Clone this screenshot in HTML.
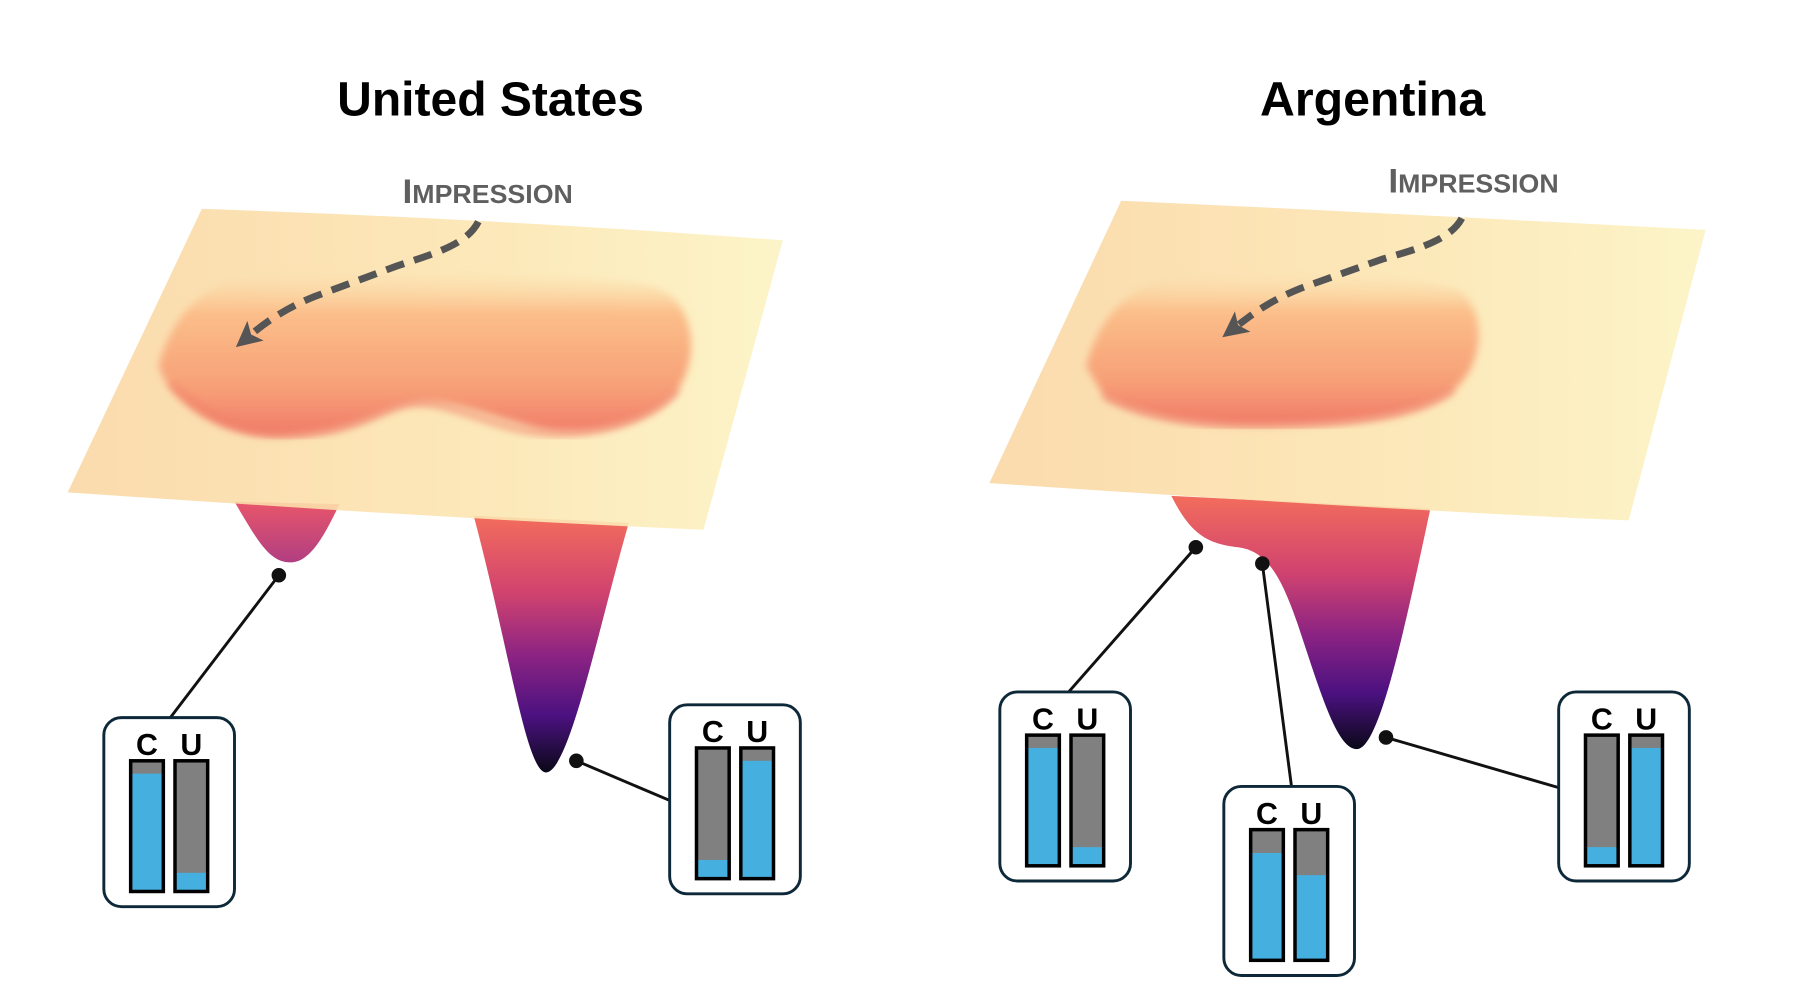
<!DOCTYPE html>
<html><head><meta charset="utf-8"><style>
html,body{margin:0;padding:0;background:#fff;width:1806px;height:1000px;overflow:hidden}
svg{display:block}
text{font-family:"Liberation Sans",Arial,sans-serif}
</style></head><body>
<svg width="1806" height="1000" viewBox="0 0 1548 857" preserveAspectRatio="none" xmlns="http://www.w3.org/2000/svg">
<defs>
<linearGradient id="plane" x1="0" y1="0" x2="1" y2="0">
<stop offset="0" stop-color="#fad7a4"/><stop offset="0.6" stop-color="#fce6b2"/><stop offset="1" stop-color="#fcf3c2"/></linearGradient>
<linearGradient id="dep" x1="0" y1="0" x2="0" y2="1">
<stop offset="0" stop-color="#fcd6a0" stop-opacity="0"/><stop offset="0.25" stop-color="#fbbe8a"/><stop offset="0.7" stop-color="#f7a077"/><stop offset="1" stop-color="#f07a68"/></linearGradient>
<linearGradient id="w1" x1="0" y1="0" x2="0" y2="1">
<stop offset="0" stop-color="#e8566a"/><stop offset="1" stop-color="#b13e82"/></linearGradient>
<linearGradient id="w2" x1="0" y1="0" x2="0" y2="1">
<stop offset="0" stop-color="#f36d5c"/><stop offset="0.3" stop-color="#d1436f"/><stop offset="0.55" stop-color="#8a2383"/><stop offset="0.78" stop-color="#4b1180"/><stop offset="1" stop-color="#0a0818"/></linearGradient>
<filter id="bl" x="-10%" y="-10%" width="120%" height="120%"><feGaussianBlur stdDeviation="3.5"/></filter>
<marker id="ah" markerWidth="22" markerHeight="22" refX="4" refY="11" orient="auto" markerUnits="userSpaceOnUse">
<path d="M0,0 L22,11 L0,22 L5,11 z" fill="#555"/></marker>
</defs>

<text x="289" y="99" font-size="41" font-weight="bold" textLength="263" lengthAdjust="spacingAndGlyphs">United States</text>
<text x="1080" y="99" font-size="41" font-weight="bold" textLength="193" lengthAdjust="spacingAndGlyphs">Argentina</text>
<text x="345" y="174" fill="#5f5f5f" font-weight="bold" textLength="146" lengthAdjust="spacingAndGlyphs"><tspan font-size="29">I</tspan><tspan font-size="22">MPRESSION</tspan></text>
<text x="1190" y="165" fill="#5f5f5f" font-weight="bold" textLength="146" lengthAdjust="spacingAndGlyphs"><tspan font-size="29">I</tspan><tspan font-size="22">MPRESSION</tspan></text>

<g transform="translate(-4,-6)">
<path d="M205,436 C225,470 235,488 253,488 C270,488 282,465 295,438 Z" fill="url(#w1)"/>
<path d="M410,448 C440,560 455,668 472,668 C492,668 518,540 543,454 Z" fill="url(#w2)"/>
<path d="M177,185 C330,190 520,200 675,212 L607,460 C420,452 240,440 62,428 Z" fill="url(#plane)" opacity="0.9"/>
<path d="M140,320 C150,280 175,250 215,245 C300,235 480,238 560,250 C600,260 605,310 585,340 C560,372 500,382 460,372 C420,362 385,345 355,352 C330,356 310,378 240,380 C190,380 150,350 140,320 Z" fill="url(#dep)" filter="url(#bl)"/>
<path d="M150,335 C190,372 230,380 260,378 C310,376 330,356 355,352 C385,348 420,370 460,376 C510,382 560,368 585,340" fill="none" stroke="#f0806a" stroke-width="5" opacity="0.7" filter="url(#bl)"/>
</g>

<g transform="translate(-14,-6)">
<path d="M1018,431 C1035,465 1050,472 1075,475 C1100,478 1112,500 1126,540 C1146,600 1160,648 1177,648 C1195,648 1215,560 1240,442 Z" fill="url(#w2)"/>
<path d="M975,178 C1130,185 1320,195 1476,203 L1410,452 C1230,444 1040,432 862,420 Z" fill="url(#plane)" opacity="0.9"/>
<path d="M945,320 C955,280 980,250 1020,245 C1100,238 1220,240 1265,255 C1290,275 1285,320 1260,340 C1230,362 1180,368 1120,370 C1060,372 1000,368 960,345 Z" fill="url(#dep)" filter="url(#bl)"/>
<path d="M960,345 C1000,368 1060,372 1120,370 C1180,368 1230,362 1260,340" fill="none" stroke="#f0806a" stroke-width="5" opacity="0.7" filter="url(#bl)"/>
</g>

<path d="M410,190 C400,210 370,218 340,228 L270,254 C245,264 228,276 216,286" fill="none" stroke="#555" stroke-width="6" stroke-dasharray="16,9" marker-end="url(#ah)"/>
<path d="M1253,187 C1243,206 1213,214 1185,222 L1115,247 C1090,257 1075,268 1062,278" fill="none" stroke="#555" stroke-width="6" stroke-dasharray="16,9" marker-end="url(#ah)"/>

<g stroke="#111" stroke-width="2.5" fill="#111">
<line x1="239" y1="493" x2="146" y2="615"/><circle cx="239" cy="493" r="5"/>
<line x1="494" y1="652" x2="574" y2="686"/><circle cx="494" cy="652" r="5"/>
<line x1="1025" y1="469" x2="916" y2="593"/><circle cx="1025" cy="469" r="5"/>
<line x1="1082" y1="483" x2="1107" y2="674"/><circle cx="1082" cy="483" r="5"/>
<line x1="1188" y1="632" x2="1336" y2="675"/><circle cx="1188" cy="632" r="5"/>
</g>

<g transform="translate(89,615)">
<rect x="0" y="0" width="112" height="162" rx="15" fill="#fff" stroke="#0d2838" stroke-width="2.5"/>
<text x="37" y="32" font-size="26" font-weight="bold" text-anchor="middle">C</text>
<text x="75" y="32" font-size="26" font-weight="bold" text-anchor="middle">U</text>
<rect x="23" y="37" width="28" height="112" fill="#808080"/><rect x="23" y="48" width="28" height="101" fill="#45b0e0"/><rect x="23" y="37" width="28" height="112" fill="none" stroke="#000" stroke-width="3"/>
<rect x="61" y="37" width="28" height="112" fill="#808080"/><rect x="61" y="133" width="28" height="16" fill="#45b0e0"/><rect x="61" y="37" width="28" height="112" fill="none" stroke="#000" stroke-width="3"/>
</g>
<g transform="translate(574,604)">
<rect x="0" y="0" width="112" height="162" rx="15" fill="#fff" stroke="#0d2838" stroke-width="2.5"/>
<text x="37" y="32" font-size="26" font-weight="bold" text-anchor="middle">C</text>
<text x="75" y="32" font-size="26" font-weight="bold" text-anchor="middle">U</text>
<rect x="23" y="37" width="28" height="112" fill="#808080"/><rect x="23" y="133" width="28" height="16" fill="#45b0e0"/><rect x="23" y="37" width="28" height="112" fill="none" stroke="#000" stroke-width="3"/>
<rect x="61" y="37" width="28" height="112" fill="#808080"/><rect x="61" y="48" width="28" height="101" fill="#45b0e0"/><rect x="61" y="37" width="28" height="112" fill="none" stroke="#000" stroke-width="3"/>
</g>
<g transform="translate(857,593)">
<rect x="0" y="0" width="112" height="162" rx="15" fill="#fff" stroke="#0d2838" stroke-width="2.5"/>
<text x="37" y="32" font-size="26" font-weight="bold" text-anchor="middle">C</text>
<text x="75" y="32" font-size="26" font-weight="bold" text-anchor="middle">U</text>
<rect x="23" y="37" width="28" height="112" fill="#808080"/><rect x="23" y="48" width="28" height="101" fill="#45b0e0"/><rect x="23" y="37" width="28" height="112" fill="none" stroke="#000" stroke-width="3"/>
<rect x="61" y="37" width="28" height="112" fill="#808080"/><rect x="61" y="133" width="28" height="16" fill="#45b0e0"/><rect x="61" y="37" width="28" height="112" fill="none" stroke="#000" stroke-width="3"/>
</g>
<g transform="translate(1049,674)">
<rect x="0" y="0" width="112" height="162" rx="15" fill="#fff" stroke="#0d2838" stroke-width="2.5"/>
<text x="37" y="32" font-size="26" font-weight="bold" text-anchor="middle">C</text>
<text x="75" y="32" font-size="26" font-weight="bold" text-anchor="middle">U</text>
<rect x="23" y="37" width="28" height="112" fill="#808080"/><rect x="23" y="57" width="28" height="92" fill="#45b0e0"/><rect x="23" y="37" width="28" height="112" fill="none" stroke="#000" stroke-width="3"/>
<rect x="61" y="37" width="28" height="112" fill="#808080"/><rect x="61" y="76" width="28" height="73" fill="#45b0e0"/><rect x="61" y="37" width="28" height="112" fill="none" stroke="#000" stroke-width="3"/>
</g>
<g transform="translate(1336,593)">
<rect x="0" y="0" width="112" height="162" rx="15" fill="#fff" stroke="#0d2838" stroke-width="2.5"/>
<text x="37" y="32" font-size="26" font-weight="bold" text-anchor="middle">C</text>
<text x="75" y="32" font-size="26" font-weight="bold" text-anchor="middle">U</text>
<rect x="23" y="37" width="28" height="112" fill="#808080"/><rect x="23" y="133" width="28" height="16" fill="#45b0e0"/><rect x="23" y="37" width="28" height="112" fill="none" stroke="#000" stroke-width="3"/>
<rect x="61" y="37" width="28" height="112" fill="#808080"/><rect x="61" y="48" width="28" height="101" fill="#45b0e0"/><rect x="61" y="37" width="28" height="112" fill="none" stroke="#000" stroke-width="3"/>
</g>
</svg>
</body></html>
